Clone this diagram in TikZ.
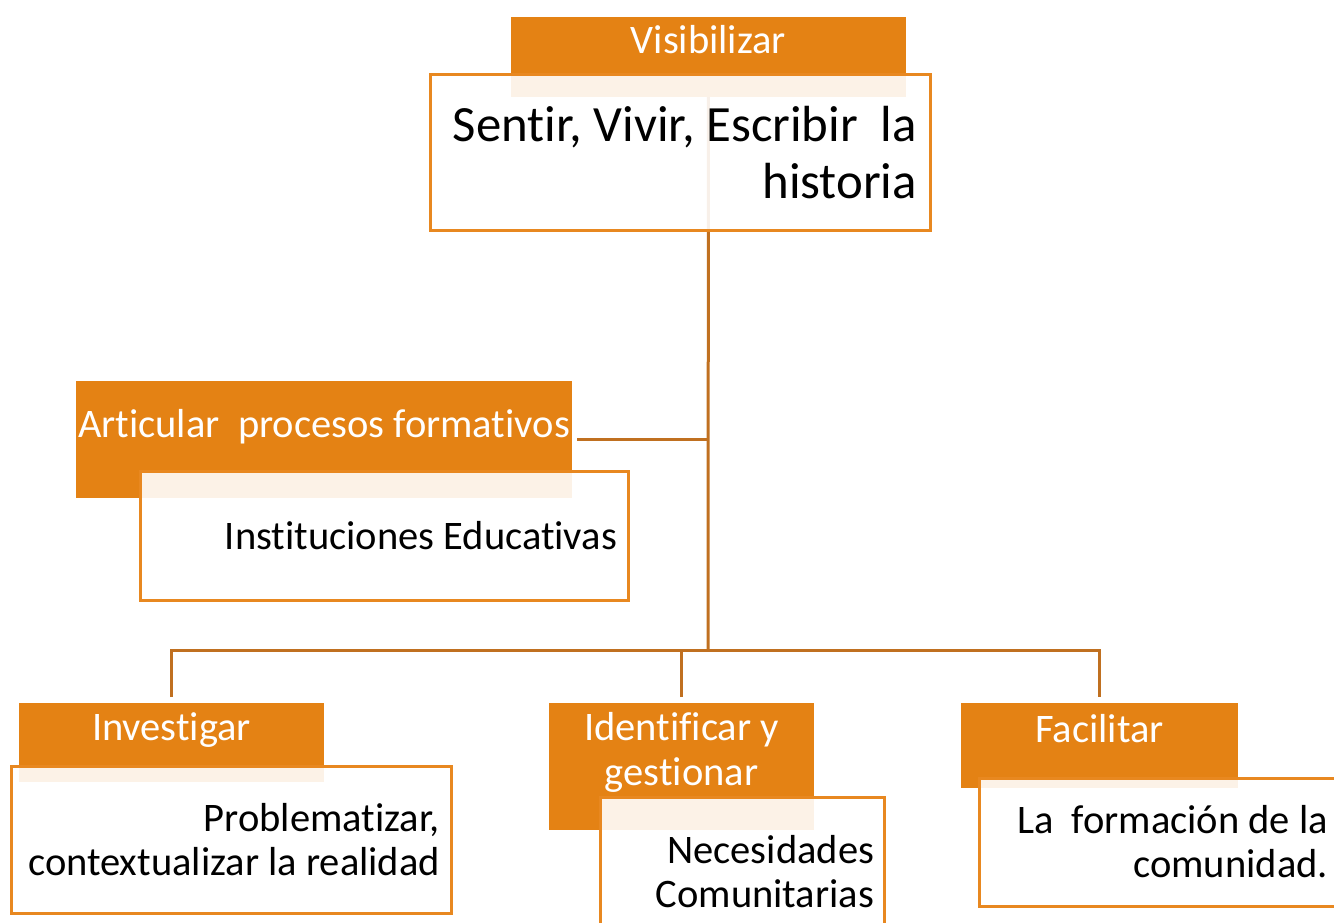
\documentclass[tikz,border=0pt]{standalone}
\usepackage{fontspec}
\setmainfont[Ligatures=CommonOff]{Carlito}
\usepackage{tikz}
\usetikzlibrary{backgrounds}
\definecolor{hdrorange}{RGB}{228,130,20}
\definecolor{boxline}{RGB}{232,136,32}
\definecolor{linkbrown}{RGB}{192,112,32}

\begin{document}
\begin{tikzpicture}[x=1pt,y=-1pt]
    \useasboundingbox (0,0) rectangle (1334,923);
    \clip (0,0) rectangle (1334,923);
    \coordinate (bus) at (708,650);

    % orange headers
    \begin{scope}[every node/.style={fill=hdrorange,text=white,inner sep=0pt,outer sep=0pt,
        anchor=north west,align=flush center,font=\fontsize{40.5}{45}\selectfont}]
      \node[minimum width=395pt,text height=37pt,text depth=43pt] (vis) at (511,17) {Visibilizar};
      \node[minimum width=496pt,text height=56pt,text depth=61pt] (art) at (76,381) {Articular\ \ procesos formativos};
      \node[minimum width=305pt,text height=37pt,text depth=42pt] (inv) at (19,703) {Investigar};
      \node[minimum width=265pt,text height=82pt,text depth=45pt] (ide) at (549,703) {Identificar y\\gestionar};
      \node[minimum width=277pt,text height=39pt,text depth=46pt] (fac) at (961,703) {Facilitar};
    \end{scope}

    % white text boxes
    \begin{scope}[every node/.style={draw=boxline,line width=3pt,fill=white,fill opacity=0.9,
        text opacity=1,outer sep=0pt,anchor=north west,align=flush right,font=\fontsize{40.5}{44}\selectfont}]
      \node[minimum width=500pt,minimum height=155pt,text width=474pt,inner xsep=13pt,
        font=\fontsize{50.8}{57}\selectfont] (sen) at (430,75) {Sentir, Vivir, Escribir\ \ la\\historia};
      \node[minimum width=488pt,minimum height=129pt,text width=466pt,inner xsep=11pt] (ins) at (140,471) {Instituciones Educativas};
      \node[minimum width=440pt,minimum height=147pt,text width=418pt,inner xsep=11pt] (pro) at (11,766) {Problematizar,\\contextualizar la realidad};
      \node[minimum width=284pt,minimum height=150pt,text width=264pt,inner xsep=10pt] (nec) at (600,797) {Necesidades\\Comunitarias};
      \node[minimum width=366pt,minimum height=128pt,text width=332pt,inner xsep=17pt] (com) at (979,778) {La\ \ formación de la\\comunidad.};
    \end{scope}

    % connectors
    \begin{scope}[on background layer,every path/.style={draw=linkbrown,line width=3pt}]
      \draw (vis.center) -- (bus);
      \draw[shorten >=5pt] (vis.center |- art.east) -- (art.east);
      \draw[shorten <=6pt,shorten >=6pt] (inv.north) -- (inv.north |- bus) -- (fac.north |- bus) -- (fac.north);
      \draw[shorten <=6pt] (ide.north) -- (ide.north |- bus);
    \end{scope}
\end{tikzpicture}
\end{document}
